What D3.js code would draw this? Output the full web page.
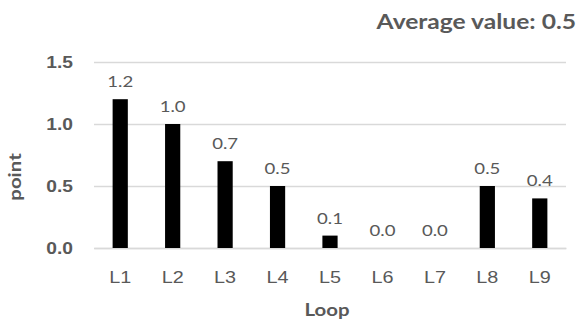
<!DOCTYPE html>
<html>
<head>
<meta charset="utf-8">
<script src="https://cdn.jsdelivr.net/npm/d3@7"></script>
<style>
  html, body { margin: 0; padding: 0; background: #fff; }
  svg { display: block; font-family: Lato, "Open Sans", sans-serif; }
</style>
</head>
<body>
<svg id="chart" width="587" height="323"></svg>
<script>
// Loop scores per loop
const categories = ["L1", "L2", "L3", "L4", "L5", "L6", "L7", "L8", "L9"];
const values = [1.2, 1.0, 0.7, 0.5, 0.1, 0.0, 0.0, 0.5, 0.4];
const yTicks = [0.0, 0.5, 1.0, 1.5];
const averageLabel = "Average value: 0.5";
const xTitle = "Loop";
const yTitle = "point";

const svg = d3.select("#chart");
const margin = { top: 62, right: 21, bottom: 75, left: 94 };
const width = 587 - margin.left - margin.right;
const height = 323 - margin.top - margin.bottom;
const textColor = "#595959";
const stretch = 1.2; // wide lettering

const g = svg.append("g").attr("transform", `translate(${margin.left},${margin.top})`);

const x = d3.scaleBand().domain(categories).range([0, width]).paddingInner(0.71).paddingOuter(0.355);
const y = d3.scaleLinear().domain([0, 1.5]).range([height, 0]);

// horizontal gridlines with y tick labels
const yAxis = d3.axisLeft(y).tickValues(yTicks).tickFormat(d3.format(".1f")).tickSize(-width).tickPadding(17.5);
const yg = g.append("g").call(yAxis);
yg.select(".domain").remove();
yg.selectAll("line").attr("stroke", "#d9d9d9").attr("stroke-width", 1.5);
yg.selectAll("text")
  .attr("fill", textColor)
  .attr("transform", `scale(${stretch},1)`)
  .style("font-size", "16px")
  .style("font-weight", "bold");

// x axis
const xAxis = d3.axisBottom(x).tickSize(0).tickPadding(35);
const xg = g.append("g").attr("transform", `translate(0,${height})`).call(xAxis);
xg.select(".domain").attr("stroke", "#d9d9d9").attr("stroke-width", 1.5);
xg.selectAll("text")
  .attr("fill", textColor)
  .attr("dy", null)
  .attr("transform", `scale(${stretch},1)`)
  .style("font-size", "16.5px");

// bars
g.selectAll("rect.bar")
  .data(values)
  .join("rect")
  .attr("class", "bar")
  .attr("x", (d, i) => x(categories[i]))
  .attr("width", x.bandwidth())
  .attr("y", d => y(d))
  .attr("height", d => height - y(d))
  .attr("fill", "#000");

// value labels
g.selectAll("text.val")
  .data(values)
  .join("text")
  .attr("class", "val")
  .attr("transform", (d, i) => `translate(${x(categories[i]) + x.bandwidth() / 2},${y(d) - 12}) scale(${stretch},1)`)
  .attr("text-anchor", "middle")
  .attr("fill", textColor)
  .style("font-size", "15.5px")
  .text(d => d.toFixed(1));

// axis titles
svg.append("text")
  .attr("transform", `translate(${margin.left + width / 2 - 3},316) scale(${stretch},1)`)
  .attr("text-anchor", "middle")
  .attr("fill", textColor)
  .style("font-size", "17px")
  .style("font-weight", "bold")
  .text(xTitle);

svg.append("text")
  .attr("transform", `translate(21,177) rotate(-90) scale(${stretch},1)`)
  .attr("text-anchor", "middle")
  .attr("fill", textColor)
  .style("font-size", "17px")
  .style("font-weight", "bold")
  .text(yTitle);

// average annotation
svg.append("text")
  .attr("transform", `translate(576,29) scale(${stretch},1)`)
  .attr("text-anchor", "end")
  .attr("fill", textColor)
  .style("font-size", "20.5px")
  .style("font-weight", "bold")
  .text(averageLabel);
</script>
</body>
</html>
